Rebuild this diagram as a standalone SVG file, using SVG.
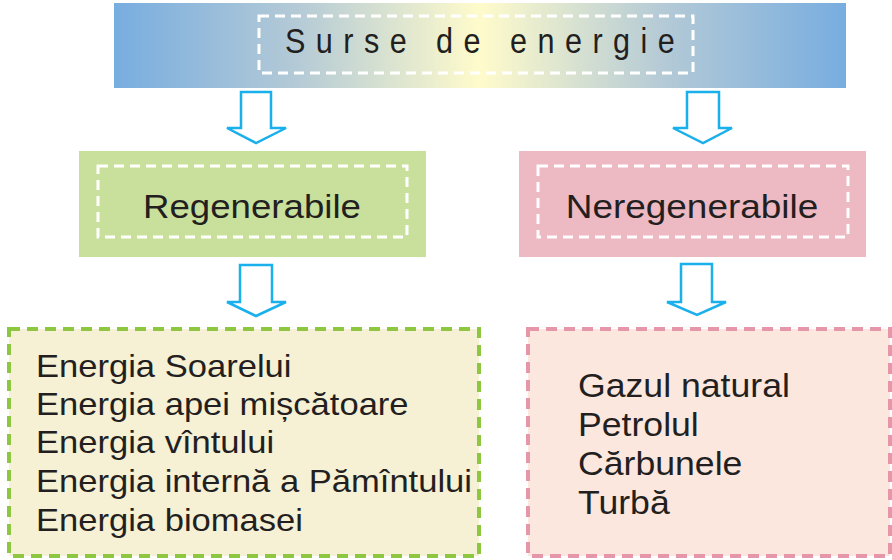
<svg xmlns="http://www.w3.org/2000/svg" width="892" height="560" viewBox="0 0 892 560">
<defs>
<linearGradient id="sky" x1="0" y1="0" x2="1" y2="0">
<stop offset="0" stop-color="#78ade0"/>
<stop offset="0.25" stop-color="#b4cad6"/>
<stop offset="0.5" stop-color="#fffbcb"/>
<stop offset="0.75" stop-color="#b4cad6"/>
<stop offset="1" stop-color="#78ade0"/>
</linearGradient>
</defs>
<style>
text{font-family:"Liberation Sans",Arial,sans-serif;fill:#231f20}
.inner{fill:none;stroke:#fff;stroke-width:3;stroke-dasharray:10 6}
.arrow{fill:#fff;stroke:#1ab0ec;stroke-width:2.5;stroke-linejoin:miter}
.lbl{font-size:33px;text-anchor:middle}
.item{font-size:32px}
.item2{font-size:33px}
</style>
<g id="title">
<rect x="114" y="3" width="732" height="85" fill="url(#sky)"/>
<rect class="inner" x="259" y="16" width="434" height="57"/>
<text x="285" y="53" font-size="36" letter-spacing="12.3" transform="translate(285 0) scale(0.85 1) translate(-285 0)">Surse de energie</text>
</g>
<g id="regen">
<rect x="79" y="151" width="347" height="106" fill="#c9e09d"/>
<rect class="inner" x="98" y="166" width="309" height="71"/>
<text class="lbl" x="252" y="218" transform="translate(252 0) scale(1.11 1) translate(-252 0)">Regenerabile</text>
</g>
<g id="neregen">
<rect x="519" y="151" width="347" height="106" fill="#edb9c3"/>
<rect class="inner" x="538" y="166" width="310" height="71"/>
<text class="lbl" x="692" y="218" transform="translate(692 0) scale(1.12 1) translate(-692 0)">Neregenerabile</text>
</g>
<g id="regen-list">
<rect x="9" y="329" width="470" height="227" fill="#f6f0d5" stroke="#8dc63f" stroke-width="4" stroke-dasharray="11 7"/>
<g transform="translate(36 0) scale(1.08 1) translate(-36 0)">
<text class="item" x="36" y="377">Energia Soarelui</text>
<text class="item" x="36" y="415">Energia apei mișcătoare</text>
<text class="item" x="36" y="453">Energia vîntului</text>
<text class="item" x="36" y="492">Energia internă a Pămîntului</text>
<text class="item" x="36" y="531">Energia biomasei</text>
</g>
</g>
<g id="neregen-list">
<rect x="528" y="329" width="362" height="227" fill="#fce7df" stroke="#e596a9" stroke-width="4" stroke-dasharray="11 7"/>
<g transform="translate(578 0) scale(1.08 1) translate(-578 0)">
<text class="item2" x="578" y="397">Gazul natural</text>
<text class="item2" x="578" y="436">Petrolul</text>
<text class="item2" x="578" y="475">Cărbunele</text>
<text class="item2" x="578" y="514">Turbă</text>
</g>
</g>
<g id="connectors">
<path class="arrow" d="M241 92 H271 V128 H286 L256 143 L227 128 H241 Z"/>
<path class="arrow" d="M687 92 H719 V128 H732 L703 143 L673 128 H687 Z"/>
<path class="arrow" d="M240 265 H272 V302 H286 L256 316 L227 302 H240 Z"/>
<path class="arrow" d="M681 264 H712 V302 H726 L697 315 L667 302 H681 Z"/>
</g>
</svg>
